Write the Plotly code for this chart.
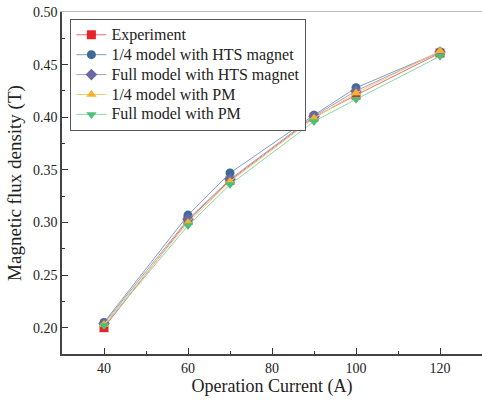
import plotly.graph_objects as go

current = [40, 60, 70, 90, 100, 120]
experiment = [0.200, 0.302, 0.340, 0.400, 0.421, 0.461]
quarter_hts = [0.205, 0.307, 0.347, 0.402, 0.428, 0.462]
full_hts = [0.204, 0.303, 0.341, 0.401, 0.425, 0.462]
quarter_pm = [0.203, 0.300, 0.339, 0.399, 0.423, 0.463]
full_pm = [0.202, 0.297, 0.336, 0.396, 0.417, 0.458]

series = [
    ("Experiment", experiment, "#e8262a", "#ee6b6e", "square"),
    ("1/4 model with HTS magnet", quarter_hts, "#3d6a96", "#7f9fbf", "circle"),
    ("Full model with HTS magnet", full_hts, "#6b68a6", "#a3a1c8", "diamond"),
    ("1/4 model with PM", quarter_pm, "#f3b425", "#f4cc73", "triangle-up"),
    ("Full model with PM", full_pm, "#4cbf78", "#8cd6a7", "triangle-down"),
]

fig = go.Figure()
for name, vals, mc, lc, sym in series:
    fig.add_trace(go.Scatter(
        x=current, y=vals, name='<span style="font-size:16px">' + name + '</span>',
        mode="lines+markers",
        line=dict(color=lc, width=1),
        marker=dict(color=mc, symbol=sym, size=9, line=dict(width=0)),
    ))

font = "Liberation Serif, Times New Roman, serif"
fig.update_layout(
    width=482, height=407,
    margin=dict(l=62, r=0, t=12, b=53),
    paper_bgcolor="white", plot_bgcolor="white",
    font=dict(family=font, color="#222", size=14),
    showlegend=True,
    legend=dict(
        x=0.02, y=0.98, xanchor="left", yanchor="top",
        bgcolor="white", bordercolor="#555", borderwidth=1,
        font=dict(family=font, size=13, color="#222"),
        tracegroupgap=0, itemwidth=30,
    ),
    xaxis=dict(
        range=[30, 130], tickvals=[40, 60, 80, 100, 120],
        ticks="inside", ticklen=6, tickcolor="#333", tickwidth=1,
        minor=dict(tickvals=[50, 70, 90, 110], ticks="inside", ticklen=3, tickcolor="#333"),
        showline=True, linecolor="#444", linewidth=1.5,
        showgrid=False, zeroline=False,
        title=dict(text="Operation Current (A)", font=dict(family=font, size=18), standoff=4),
        tickfont=dict(family=font, size=14),
    ),
    yaxis=dict(
        range=[0.175, 0.50], tickvals=[0.20, 0.25, 0.30, 0.35, 0.40, 0.45, 0.50],
        tickformat=".2f",
        ticks="inside", ticklen=6, tickcolor="#333", tickwidth=1,
        minor=dict(tickvals=[0.225, 0.275, 0.325, 0.375, 0.425, 0.475], ticks="inside", ticklen=3, tickcolor="#333"),
        showline=True, linecolor="#444", linewidth=1.5,
        showgrid=False, zeroline=False,
        title=dict(text="Magnetic flux density (T)", font=dict(family=font, size=19), standoff=6),
        tickfont=dict(family=font, size=14),
    ),
    xaxis2=dict(overlaying="x", side="top", showline=True, linecolor="#bbb",
                showticklabels=False, ticks="", showgrid=False, zeroline=False,
                range=[30, 130]),
)
fig.add_trace(go.Scatter(x=[None], y=[None], xaxis="x2", showlegend=False, hoverinfo="skip"))

fig.write_html("out.html")
